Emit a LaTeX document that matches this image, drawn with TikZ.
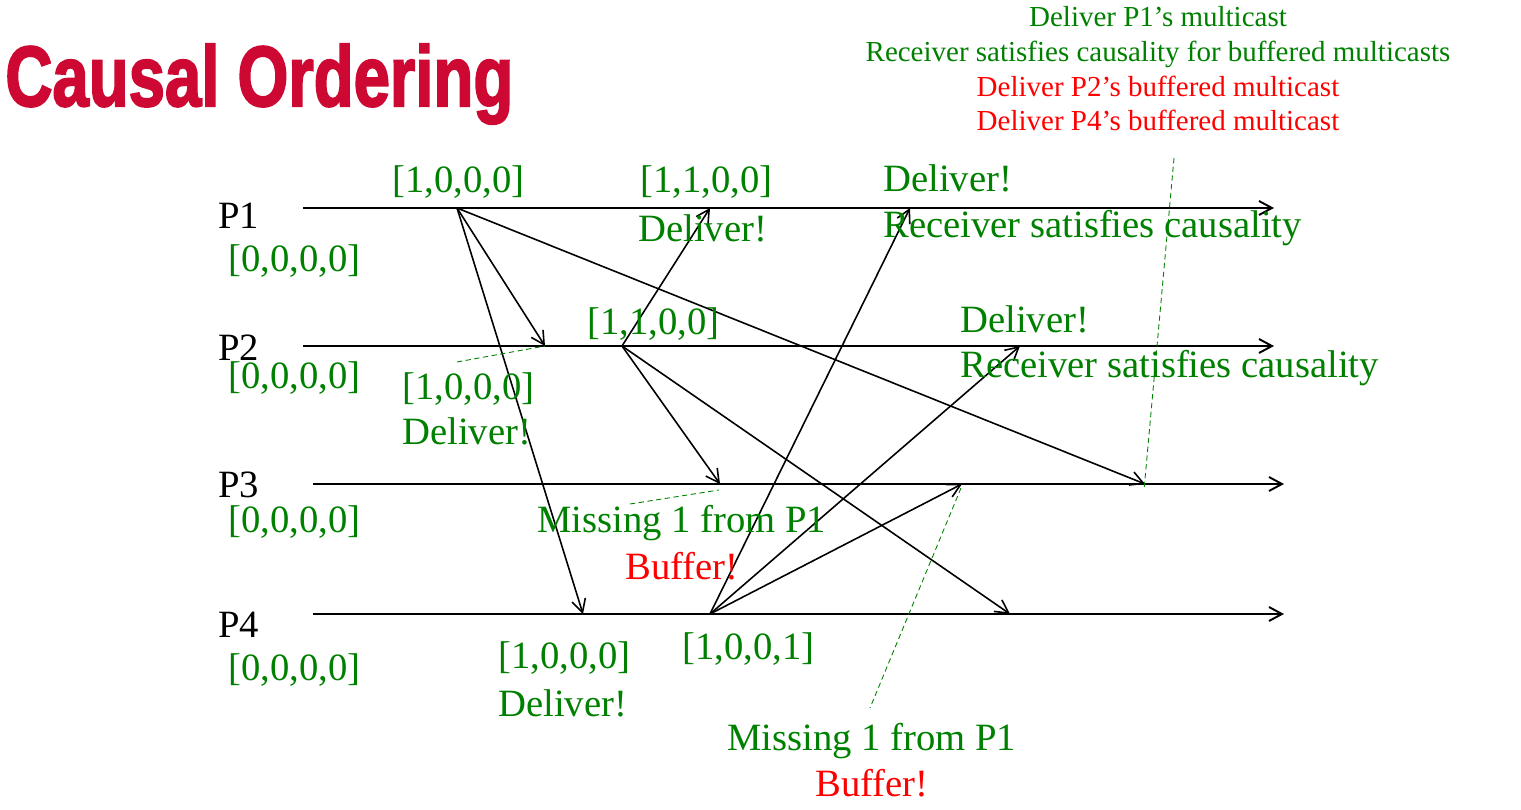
\documentclass[tikz,border=0pt]{standalone}
\usepackage{fontspec}
\setmainfont{Liberation Serif}
\newfontfamily\titlefont{Liberation Sans}[BoldFeatures={FakeBold=2.5}]
\usetikzlibrary{arrows.meta}
\definecolor{lblgreen}{RGB}{0,128,0}
\definecolor{lblred}{RGB}{255,0,0}
\definecolor{titlered}{RGB}{204,8,51}
\begin{document}
\begin{tikzpicture}[x=0.02cm,y=-0.02cm,
  lbl/.style={anchor=base west,inner sep=0,font=\fontsize{22pt}{26pt}\selectfont},
  note/.style={anchor=base,inner sep=0,font=\fontsize{16.5pt}{19pt}\selectfont},
  green/.style={text=lblgreen},
  redtxt/.style={text=lblred},
  timeline/.style={line width=1.1pt,-{Straight Barb[length=2.6mm,width=2.8mm,line width=1.1pt]}},
  msg/.style={line width=0.9pt,-{Straight Barb[length=2.6mm,width=2.8mm,line width=0.9pt]}},
  hint/.style={draw=lblgreen,line width=0.5pt,dash pattern=on 3pt off 2pt}]
\useasboundingbox (0,0) rectangle (1521,810);

% title
\node[anchor=base west,inner sep=0,text=titlered] (title) at (5,106)
  {\resizebox{10.16cm}{1.24cm}{\titlefont\bfseries Causal Ordering}};

% notes on the right of the title
\node[note,green]  (n1) at (1158,27)  {Deliver P1’s multicast};
\node[note,green]  (n2) at (1158,62)  {Receiver satisfies causality for buffered multicasts};
\node[note,redtxt] (n3) at (1158,97)  {Deliver P2’s buffered multicast};
\node[note,redtxt] (n4) at (1158,131) {Deliver P4’s buffered multicast};

% process time lines
\coordinate (p1s) at (303,208);  \coordinate (p1e) at (1274,208);
\coordinate (p2s) at (303,346);  \coordinate (p2e) at (1274,346);
\coordinate (p3s) at (313,484);  \coordinate (p3e) at (1284,484);
\coordinate (p4s) at (313,614);  \coordinate (p4e) at (1284,614);
\draw[timeline] (p1s) -- (p1e);
\draw[timeline] (p2s) -- (p2e);
\draw[timeline] (p3s) -- (p3e);
\draw[timeline] (p4s) -- (p4e);

\node[lbl] (P1) at (218,229) {P1};
\node[lbl] (P2) at (218,361) {P2};
\node[lbl] (P3) at (218,498) {P3};
\node[lbl] (P4) at (218,637) {P4};
\node[lbl,green] (v1) at (228,272) {[0,0,0,0]};
\node[lbl,green] (v2) at (228,389) {[0,0,0,0]};
\node[lbl,green] (v3) at (228,533) {[0,0,0,0]};
\node[lbl,green] (v4) at (228,680) {[0,0,0,0]};

% send events
\coordinate (s1) at (457,208);
\coordinate (s2) at (622,346);
\coordinate (s4) at (710,614);
% receive events
\coordinate (r12) at (545,346);
\coordinate (r14) at (583,614);
\coordinate (r13) at (1145,484);
\coordinate (r21) at (710,208);
\coordinate (r23) at (720,484);
\coordinate (r24) at (1010,614);
\coordinate (r41) at (910,208);
\coordinate (r42) at (1020,346);
\coordinate (r43) at (962,484);

% multicast from P1
\draw[msg] (s1) -- (r12);
\draw[msg] (s1) -- (r14);
\draw[msg] (s1) -- (r13);
% multicast from P2
\draw[msg] (s2) -- (r21);
\draw[msg] (s2) -- (r23);
\draw[msg] (s2) -- (r24);
% multicast from P4
\draw[msg] (s4) -- (r41);
\draw[msg] (s4) -- (r42);
\draw[msg] (s4) -- (r43);

% vector timestamps and delivery notes
\node[lbl,green] (t1) at (392,193) {[1,0,0,0]};
\node[lbl,green] (t2) at (640,193) {[1,1,0,0]};
\node[lbl,green] (t2d) at (638,242) {Deliver!};
\node[lbl,green] (t3) at (883,192) {Deliver!};
\node[lbl,green] (t3r) at (883,238) {Receiver satisfies causality};
\node[lbl,green] (t4) at (587,335) {[1,1,0,0]};
\node[lbl,green] (t5) at (960,333) {Deliver!};
\node[lbl,green] (t5r) at (960,378) {Receiver satisfies causality};
\node[lbl,green] (t6) at (402,400) {[1,0,0,0]};
\node[lbl,green] (t6d) at (402,445) {Deliver!};
\node[lbl,green] (t7) at (537,533) {Missing 1 from P1};
\node[lbl,redtxt] (t7b) at (625,580) {Buffer!};
\node[lbl,green] (t8) at (498,668) {[1,0,0,0]};
\node[lbl,green] (t8d) at (498,716) {Deliver!};
\node[lbl,green] (t9) at (682,659) {[1,0,0,1]};
\node[lbl,green] (t10) at (727,750) {Missing 1 from P1};
\node[lbl,redtxt] (t10b) at (815,796) {Buffer!};

% pointers from notes to receive events
\coordinate (h1) at (457,362);
\coordinate (h2) at (630,504);
\coordinate (h2e) at (719,490);
\coordinate (h3a) at (961,488);  \coordinate (h3b) at (870,708);
\coordinate (h4a) at (1174,158); \coordinate (h4b) at (1144,490);
\draw[hint] (h1) -- (r12);
\draw[hint] (h2) -- (h2e);
\draw[hint] (h3a) -- (h3b);
\draw[hint] (h4a) -- (h4b);
\end{tikzpicture}
\end{document}
